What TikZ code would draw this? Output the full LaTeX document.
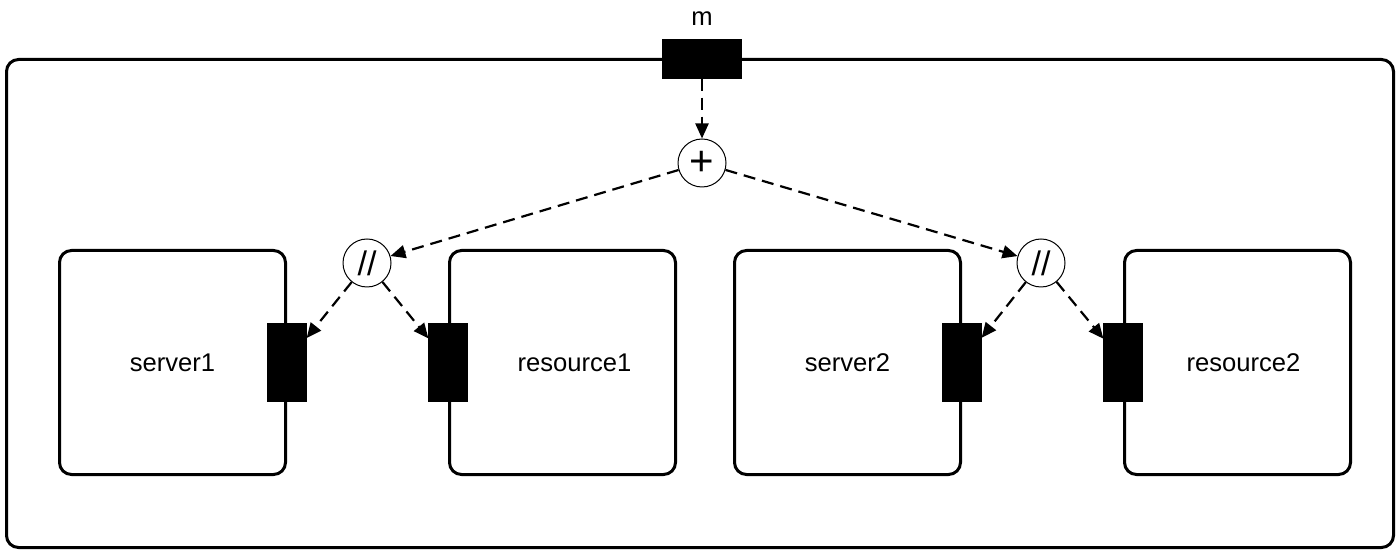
\documentclass[tikz,border=0pt]{standalone}
\usepackage{fontspec}
\setmainfont{Liberation Sans}
\usetikzlibrary{arrows.meta, positioning}

\begin{document}
\begin{tikzpicture}[
  x=0.5pt, y=0.5pt,
  font=\fontsize{12.8}{15}\selectfont,
  comp/.style={draw, line width=1.5pt, rounded corners=6pt,
               minimum width=113pt, minimum height=112pt},
  port/.style={draw, fill=black, line width=0.6pt, inner sep=0pt,
               minimum width=19pt, minimum height=39pt},
  op/.style={draw, circle, fill=white, line width=0.5pt, inner sep=0pt,
             minimum size=24pt},
  ar/.style={-{Triangle[length=7.5pt, width=6.5pt]}, line width=1.1pt,
             dash pattern=on 6pt off 3.5pt},
  node distance=80.5pt]

\useasboundingbox (0,0) rectangle (1400,551);

% outer system
\node[comp, minimum width=693.5pt, minimum height=244pt] (sys) at (700,247.5) {};
\node[port, minimum width=39pt, minimum height=19pt] (mport) at (702,492) {};
\node[above=3.5pt of mport] (mlbl) {m};

% components
\node[comp] (srv1) at (172.5,188.5) {server1};
\node[comp, right=of srv1, label={[xshift=6pt]center:resource1}] (res1) {};
\node[comp, right=28pt of res1] (srv2) {server2};
\node[comp, right=of srv2, label={[xshift=3pt]center:resource2}] (res2) {};

% ports
\node[port] (p1) at (srv1.east) {};
\node[port] (p2) at (res1.west) {};
\node[port] (p3) at (srv2.east) {};
\node[port] (p4) at (res2.west) {};

% operators
\node[op, font=\fontsize{21}{21}\selectfont] (plus) at (702,388) {+};
\node[op, font=\fontsize{17}{17}\selectfont] (par1) at (367,288) {//};
\node[op, font=\fontsize{17}{17}\selectfont] (par2) at (1041,288) {//};

\draw[ar] (mport) -- (plus);
\draw[ar] (plus) -- (par1);
\draw[ar] (plus) -- (par2);
\draw[ar] (par1) -- (p1);
\draw[ar] (par1) -- (p2);
\draw[ar] (par2) -- (p3);
\draw[ar] (par2) -- (p4);
\end{tikzpicture}
\end{document}
